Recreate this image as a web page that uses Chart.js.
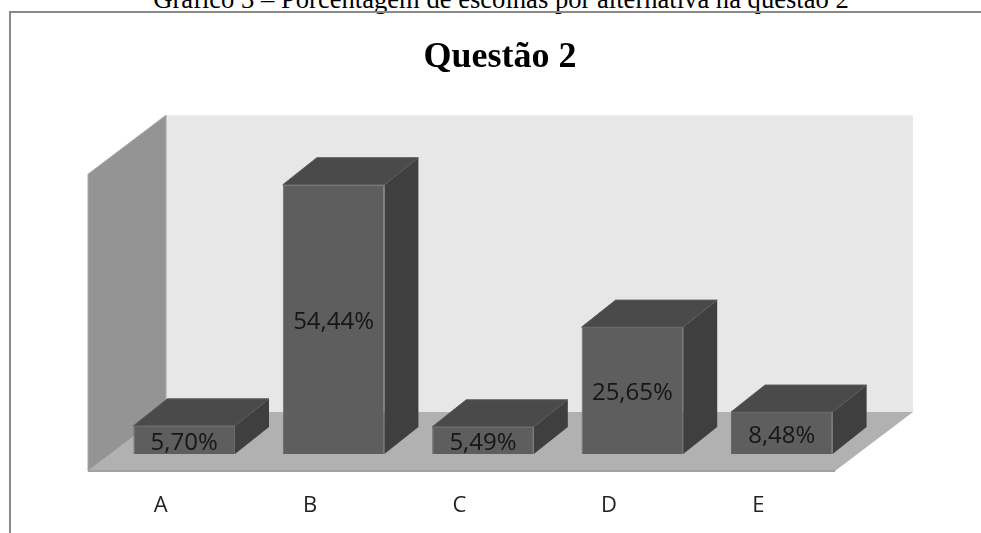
<!DOCTYPE html>
<html lang="pt">
<head>
<meta charset="utf-8">
<title>Questão 2</title>
<style>
  html, body { margin: 0; padding: 0; background: #fff; width: 981px; height: 533px; overflow: hidden; }
  #caption { position: absolute; left: 0; width: 1002px; top: -16px; height: 30px; text-align: center;
             font: 26.6px/30px "Liberation Serif", serif; color: #000; white-space: nowrap; }
  #frame { position: absolute; left: 9px; top: 11px; right: 0; bottom: 0; border-left: 2px solid #8a8a8a; border-top: 2px solid #8a8a8a; }
  #wrap { position: absolute; left: 19px; top: 0; width: 962px; height: 533px; }
</style>
</head>
<body>
<div id="caption">Gráfico 3 – Porcentagem de escolhas por alternativa na questão 2</div>
<div id="frame"></div>
<div id="wrap"><canvas id="chart" width="962" height="533"></canvas></div>
<script src="https://cdn.jsdelivr.net/npm/chart.js@4/dist/chart.umd.min.js"></script>
<script>
const categories = ['A', 'B', 'C', 'D', 'E'];
const percentages = [5.70, 54.44, 5.49, 25.65, 8.48];

// Perspective offsets of the room and of the boxes standing in it
const roomDepth = { x: 78, y: -59 };
const barInset = { x: 21.5, y: -17 };
const barDepth = { x: 34, y: -27 };

const palette = {
  backWall: '#e7e7e7', sideWall: '#949494', wallEdge: '#a6a6a6',
  floor: '#b1b1b1', floorEdge: '#a2a2a2',
  front: '#5e5e5e', frontEdge: '#696969', topEdge: '#5a5a5a',
  top: '#4a4a4a', side: '#3f3f3f', label: '#161616'
};

function polygon(ctx, pts, fill, stroke) {
  ctx.beginPath();
  pts.forEach((p, i) => i ? ctx.lineTo(p[0], p[1]) : ctx.moveTo(p[0], p[1]));
  ctx.closePath();
  ctx.fillStyle = fill;
  ctx.fill();
  if (stroke) { ctx.strokeStyle = stroke; ctx.lineWidth = 1; ctx.stroke(); }
}

// Walls and floor of the pseudo-3D room, then box tops and sides behind each bar
const box3d = {
  id: 'box3d',
  beforeDatasetsDraw(chart) {
    const { ctx, chartArea: a } = chart;
    const dx = roomDepth.x, dy = roomDepth.y;
    polygon(ctx, [[a.left + dx, a.top + dy], [a.right + dx, a.top + dy], [a.right + dx, a.bottom + dy], [a.left + dx, a.bottom + dy]], palette.backWall);
    polygon(ctx, [[a.left, a.top], [a.left + dx, a.top + dy], [a.left + dx, a.bottom + dy], [a.left, a.bottom]], palette.sideWall, palette.wallEdge);
    polygon(ctx, [[a.left, a.bottom], [a.right, a.bottom], [a.right + dx, a.bottom + dy], [a.left + dx, a.bottom + dy]], palette.floor);
    ctx.beginPath();
    ctx.moveTo(a.left, a.bottom);
    ctx.lineTo(a.right, a.bottom);
    ctx.strokeStyle = palette.floorEdge;
    ctx.lineWidth = 2;
    ctx.stroke();

    ctx.save();
    ctx.translate(barInset.x, barInset.y);
    chart.getDatasetMeta(0).data.forEach(bar => {
      const l = bar.x - bar.width / 2, r = bar.x + bar.width / 2;
      const dxb = barDepth.x, dyb = barDepth.y;
      polygon(ctx, [[r, bar.y], [r + dxb, bar.y + dyb], [r + dxb, bar.base + dyb], [r, bar.base]], palette.side);
      polygon(ctx, [[l, bar.y], [l + dxb, bar.y + dyb], [r + dxb, bar.y + dyb], [r, bar.y]], palette.top, palette.topEdge);
    });
  },
  afterDatasetsDraw(chart) {
    const { ctx } = chart;
    ctx.font = '24px "Open Sans", sans-serif';
    ctx.fillStyle = palette.label;
    ctx.textAlign = 'center';
    ctx.textBaseline = 'middle';
    chart.getDatasetMeta(0).data.forEach((bar, i) => {
      const text = percentages[i].toFixed(2).replace('.', ',') + '%';
      ctx.fillText(text, bar.x, (bar.y + bar.base) / 2 + 3);
    });
    ctx.restore();
  }
};

// Invisible side axes reserve the margins so the title stays centred on the canvas
const marginAxis = (position, width) => ({
  position,
  min: 0,
  max: 60,
  grid: { display: false },
  border: { display: false },
  ticks: { display: false },
  afterFit(scale) { scale.width = width; }
});

new Chart(document.getElementById('chart'), {
  type: 'bar',
  data: {
    labels: categories,
    datasets: [{
      data: percentages,
      backgroundColor: palette.front,
      borderColor: palette.frontEdge,
      borderWidth: 1,
      categoryPercentage: 0.68,
      barPercentage: 1,
      clip: false
    }]
  },
  options: {
    responsive: false,
    animation: false,
    layout: { padding: 0 },
    plugins: {
      legend: { display: false },
      tooltip: { enabled: false },
      title: {
        display: true,
        text: 'Questão 2',
        color: '#000',
        font: { family: '"Liberation Serif", serif', size: 36, weight: 'bold' },
        padding: { top: 36, bottom: 95 }
      }
    },
    scales: {
      x: {
        grid: { display: false },
        border: { display: false },
        ticks: { color: '#222', font: { family: '"Open Sans", sans-serif', size: 22 }, padding: 14, maxRotation: 0, labelOffset: -2 },
        afterFit(scale) { scale.height = 62; }
      },
      y: marginAxis('left', 69),
      rightMargin: marginAxis('right', 146)
    }
  },
  plugins: [box3d]
});
</script>
</body>
</html>
